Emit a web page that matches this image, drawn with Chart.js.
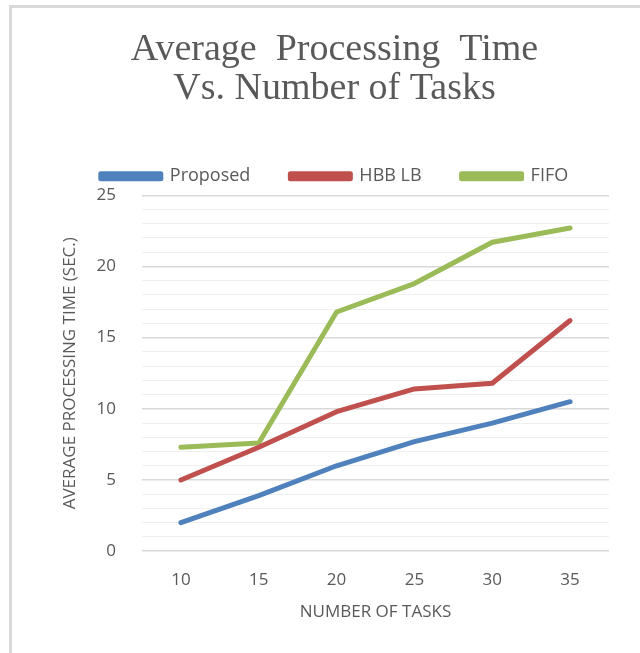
<!DOCTYPE html>
<html lang="en">
<head>
  <meta charset="UTF-8" />
  <title>Average Processing Time Vs. Number of Tasks</title>
  <script src="https://cdn.jsdelivr.net/npm/chart.js"></script>
  <style>
    body {
      margin: 0;
      background: #fff;
      overflow: hidden;
    }
    #frame {
      position: absolute;
      left: 9px;
      top: 5px;
      width: 660px;
      height: 680px;
      border: 3px solid #d9d9d9;
      background: #fff;
    }
    #wrap {
      position: absolute;
      left: 0;
      top: 0;
      width: 628px;
      height: 645px;
    }
  </style>
</head>
<body>
  <div id="frame">
    <div id="wrap"><canvas id="chart"></canvas></div>
  </div>

  <script>
    const tasks = ['10', '15', '20', '25', '30', '35'];
    const proposed = [2.0, 3.9, 6.0, 7.7, 9.0, 10.5];
    const hbbLb = [5.0, 7.3, 9.8, 11.4, 11.8, 16.2];
    const fifo = [7.3, 7.6, 16.8, 18.8, 21.7, 22.7];

    const grey = '#595959';
    const sans = "'Open Sans', 'DejaVu Sans', sans-serif";

    const ctx = document.getElementById('chart').getContext('2d');
    new Chart(ctx, {
      type: 'line',
      data: {
        labels: tasks,
        datasets: [
          { label: 'Proposed', data: proposed, borderColor: '#4f81bd', backgroundColor: '#4f81bd' },
          { label: 'HBB LB', data: hbbLb, borderColor: '#c0504d', backgroundColor: '#c0504d' },
          { label: 'FIFO', data: fifo, borderColor: '#9bbb59', backgroundColor: '#9bbb59' }
        ]
      },
      options: {
        responsive: true,
        maintainAspectRatio: false,
        animation: false,
        elements: {
          line: { borderWidth: 5, tension: 0, borderCapStyle: 'round', borderJoinStyle: 'round' },
          point: { radius: 0, hoverRadius: 0 }
        },
        layout: { padding: { left: 48, right: 31, top: 8, bottom: 31 } },
        plugins: {
          title: {
            display: true,
            text: ['Average  Processing  Time', 'Vs. Number of Tasks'],
            color: grey,
            font: { family: "'Liberation Serif', 'Times New Roman', serif", size: 38, weight: 'normal', lineHeight: 1.03 },
            padding: { top: 14, bottom: 19 }
          },
          legend: {
            labels: {
              color: grey,
              font: { family: sans, size: 18 },
              boxWidth: 60,
              boxHeight: 5,
              padding: 40
            }
          },
          tooltip: { enabled: false }
        },
        scales: {
          x: {
            offset: true,
            grid: { display: false },
            border: { display: false },
            ticks: { color: grey, font: { family: sans, size: 17 }, padding: 11 },
            title: {
              display: true,
              text: 'NUMBER OF TASKS',
              color: grey,
              font: { family: sans, size: 17 },
              padding: { top: 0, bottom: 0 }
            }
          },
          y: {
            min: 0,
            max: 25,
            afterFit: (axis) => { axis.width = 82; },
            border: { display: false },
            grid: {
              color: (c) => (c.tick && c.tick.value % 5 === 0 ? '#d9d9d9' : '#efefef'),
              lineWidth: (c) => (c.tick && c.tick.value % 5 === 0 ? 1.5 : 1),
              drawTicks: false
            },
            ticks: {
              stepSize: 1,
              autoSkip: false,
              color: grey,
              font: { family: sans, size: 17 },
              padding: 26,
              callback: (v) => (v % 5 === 0 ? v : '')
            },
            title: {
              display: true,
              text: 'AVERAGE PROCESSING TIME (SEC.)',
              color: grey,
              font: { family: sans, size: 17 },
              padding: { top: 0, bottom: 0 }
            }
          }
        }
      }
    });
  </script>
</body>
</html>
